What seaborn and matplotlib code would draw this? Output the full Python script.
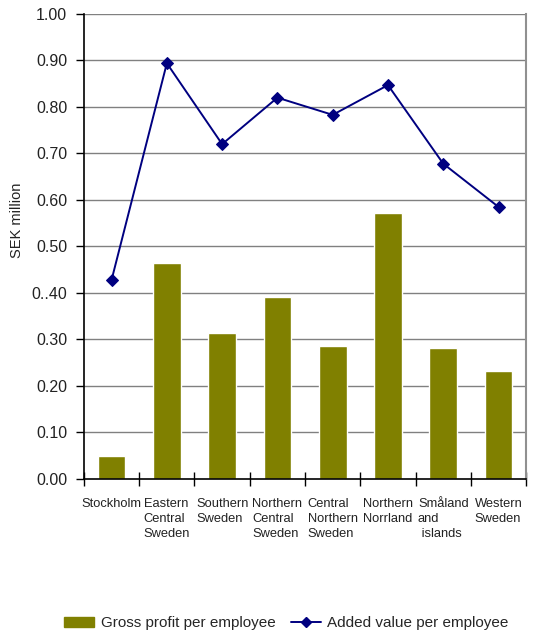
import matplotlib
matplotlib.use("Agg")
import matplotlib.pyplot as plt
from matplotlib.patches import Patch
from matplotlib.lines import Line2D
from matplotlib.ticker import FixedLocator, NullFormatter
import numpy as np
import pandas as pd
import seaborn as sns

# Regional figures, SEK million per employee
regions = [
    "Stockholm",
    "Eastern\nCentral\nSweden",
    "Southern\nSweden",
    "Northern\nCentral\nSweden",
    "Central\nNorthern\nSweden",
    "Northern\nNorrland",
    "Småland\nand\n islands",
    "Western\nSweden",
]
gross_profit = [0.049, 0.465, 0.314, 0.391, 0.286, 0.572, 0.282, 0.232]
added_value = [0.428, 0.894, 0.720, 0.820, 0.783, 0.847, 0.678, 0.585]
y_ticks = [0.0, 0.1, 0.2, 0.3, 0.4, 0.5, 0.6, 0.7, 0.8, 0.9, 1.0]
y_tick_labels = ["0.00", "0.10", "0.20", "0.30", "0..40", "0.50",
                 "0.60", "0.70", "0.80", "0.90", "1.00"]

BAR_COLOR = "#808000"
LINE_COLOR = "#000080"

sns.set_style("white")
plt.rcParams["font.family"] = ["Liberation Sans", "DejaVu Sans"]

df = pd.DataFrame({
    "region": regions,
    "pos": np.arange(len(regions)),
    "gross": gross_profit,
    "added": added_value,
})

fig = plt.figure(figsize=(5.38, 6.34), dpi=100)
ax = fig.add_axes([0.156, 0.2445, 0.822, 0.7335])

sns.barplot(data=df, x="region", y="gross", color=BAR_COLOR, saturation=1,
            width=0.5, ax=ax, zorder=2)
sns.lineplot(data=df, x="pos", y="added", color=LINE_COLOR, marker="D",
             markersize=6, markeredgecolor=LINE_COLOR, linewidth=1.4,
             ax=ax, zorder=3)

ax.set_xlim(-0.5, len(regions) - 0.5)
ax.set_ylim(0, 1.0)

# horizontal grid
for v in y_ticks[1:]:
    ax.axhline(v, color="#808080", linewidth=1.0, zorder=1)

ax.set_yticks(y_ticks)
ax.set_yticklabels(y_tick_labels, fontsize=11.5, color="#222222")
ax.tick_params(axis="y", direction="out", length=6, width=1, pad=6,
               left=True, color="black")

# category boundary ticks with labels centred between them
ax.xaxis.set_major_locator(FixedLocator(np.arange(-0.5, len(regions), 1.0)))
ax.xaxis.set_major_formatter(NullFormatter())
ax.xaxis.set_minor_locator(FixedLocator(np.arange(len(regions))))
ax.set_xticklabels(regions, minor=True, fontsize=9.3, linespacing=1.3,
                   multialignment="left", color="#222222")
ax.tick_params(axis="x", which="major", direction="inout", length=10,
               width=1, bottom=True, color="black")
ax.tick_params(axis="x", which="minor", length=0, pad=14)

ax.set_xlabel("")
ax.set_ylabel("SEK million", fontsize=10.5, color="#222222")
ax.yaxis.set_label_coords(-0.136, 0.557)

for side in ["left", "bottom"]:
    ax.spines[side].set_color("black")
    ax.spines[side].set_linewidth(1.2)
ax.spines["right"].set_color("#909090")
ax.spines["right"].set_linewidth(1.5)
ax.spines["top"].set_visible(False)

handles = [
    Patch(facecolor=BAR_COLOR, edgecolor=BAR_COLOR),
    Line2D([], [], color=LINE_COLOR, marker="D", markersize=5, linewidth=1.4),
]
fig.legend(handles, ["Gross profit per employee", "Added value per employee"],
           loc="center", bbox_to_anchor=(0.532, 0.017), ncol=2, frameon=False,
           fontsize=11, handlelength=2.0, handleheight=0.6,
           columnspacing=1.0, handletextpad=0.4)

fig.savefig("out.png", dpi=100)
